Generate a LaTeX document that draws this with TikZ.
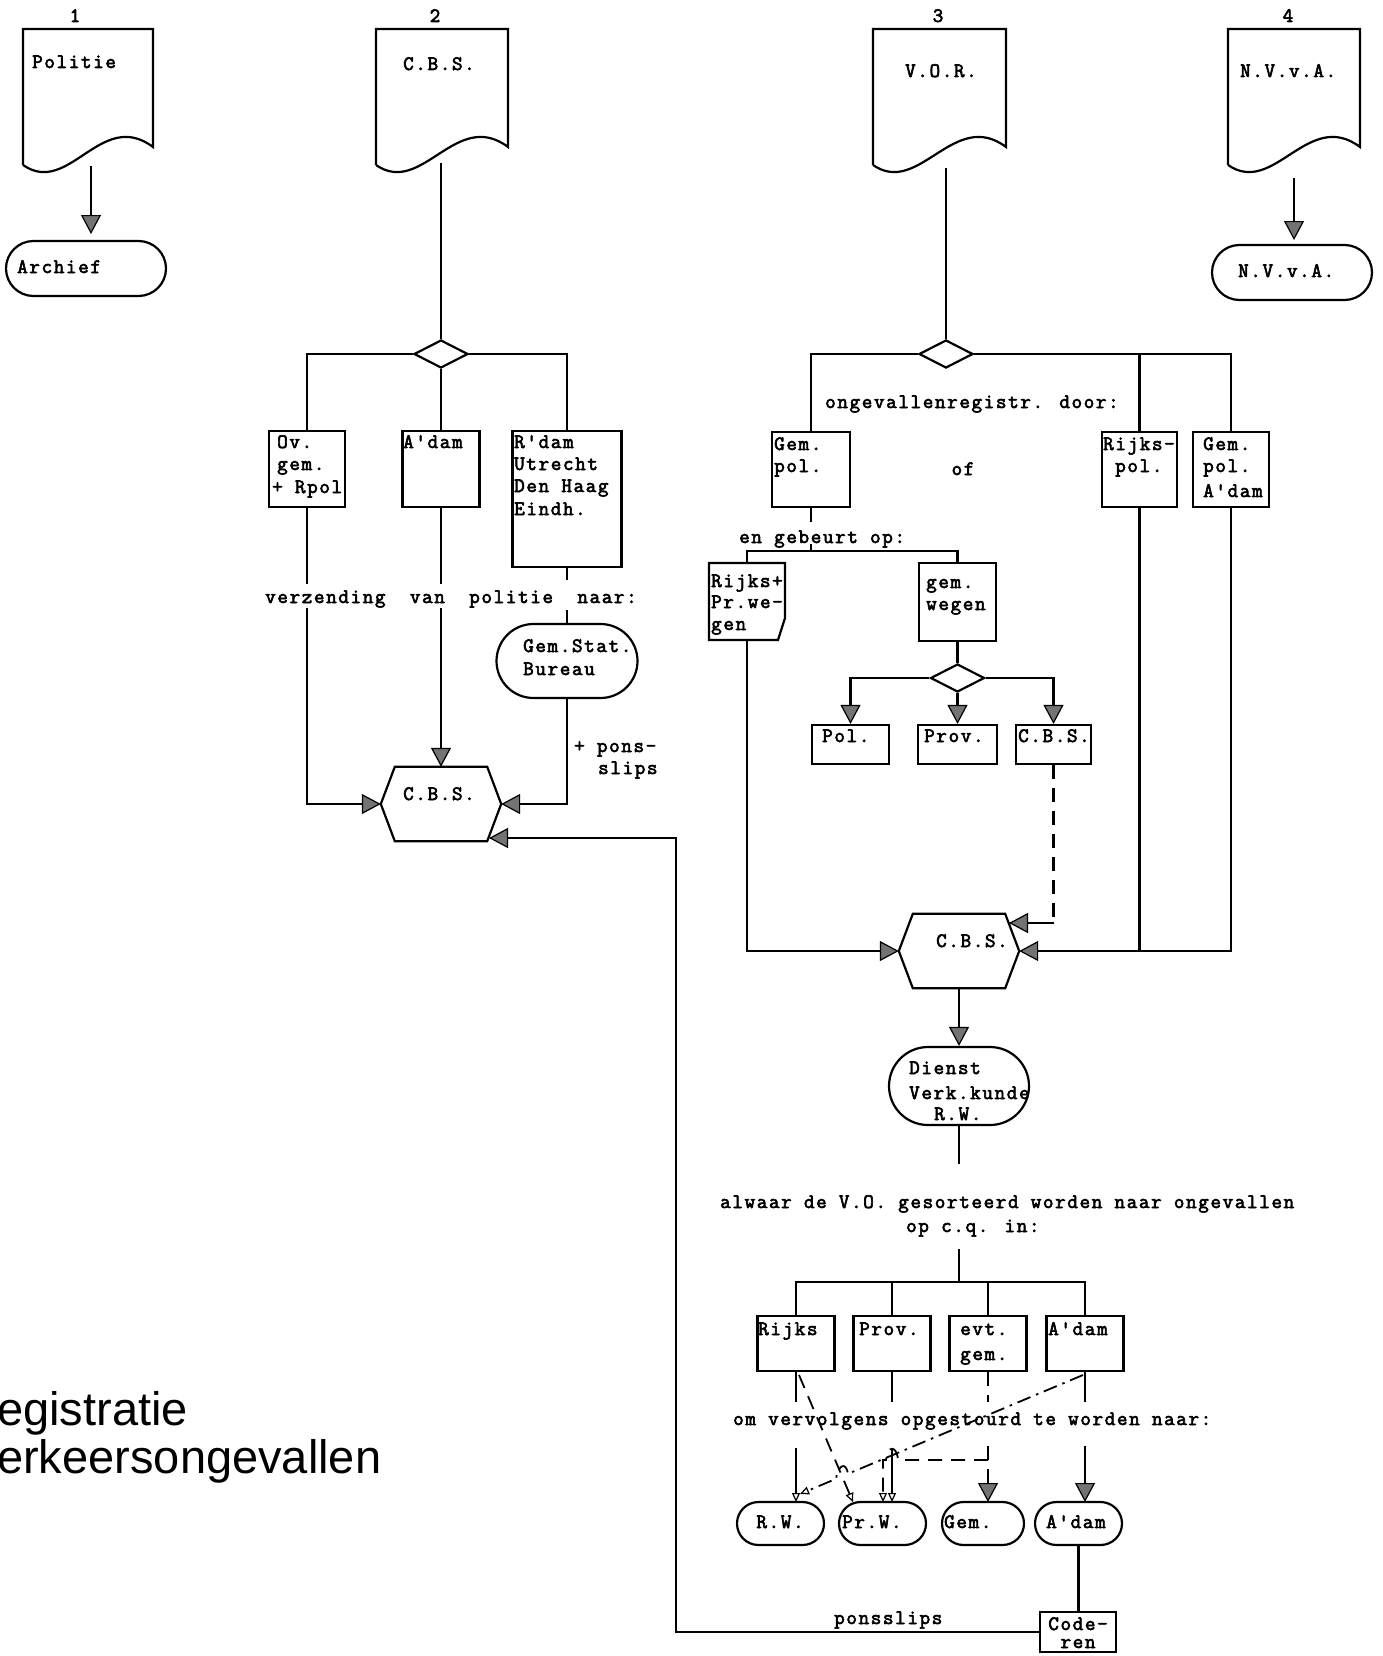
\documentclass[tikz,border=0pt]{standalone}
\usepackage{fontspec}
\usetikzlibrary{arrows.meta,shapes.geometric,shapes.misc,calc}
\newfontfamily\tw{Latin Modern Mono}[LetterSpace=8,FakeBold=3]
\newfontfamily\ttl{Liberation Sans}
\newcommand\mydoc[2]{\draw[ln] (#1,165) -- (#1,29) -- (#2,29) -- (#2,147) .. controls +(-52,-39) and +(46,32) .. (#1,165);}
\newcommand\myhex[1]{\draw[ln] ($(#1.north west)+(14,0)$) -- ($(#1.north east)+(-14,0)$) -- (#1.east) -- ($(#1.south east)+(-14,0)$) -- ($(#1.south west)+(14,0)$) -- (#1.west) -- cycle;}
\begin{document}
\begin{tikzpicture}[x=1pt,y=-1pt,
 ln/.style={line width=2.2pt},
 bx/.style={draw,line width=2.2pt,rectangle,inner sep=0pt},
 term/.style={draw,line width=2.2pt,rounded rectangle,inner sep=0pt},
 dia/.style={draw,line width=2.2pt,diamond,inner sep=0pt,minimum width=54pt,minimum height=28pt},
 hexa/.style={rectangle,inner sep=0pt,minimum width=120pt,minimum height=74pt},
 txt/.style={inner sep=0pt,anchor=base west,font=\tw\fontsize{20.5}{22}\selectfont},
 ctxt/.style={txt,anchor=base},
 arr/.style={-{Triangle[length=19pt,width=20pt,fill=black!55,line width=1.2pt]}},
 sarr/.style={-{Triangle[open,length=9pt,width=8pt,line width=1.2pt]}},
 dsh/.style={dash pattern=on 14pt off 9pt},
 dshdot/.style={dash pattern=on 14pt off 6pt on 2.5pt off 6pt},
]
\fill[white] (0,0) rectangle (1383,1656);
\useasboundingbox (0,0) rectangle (1383,1656);

% column numbers
\node[ctxt] (n1) at (75,22) {1};
\node[ctxt] (n2) at (435,22) {2};
\node[ctxt] (n3) at (938,22) {3};
\node[ctxt] (n4) at (1288,22) {4};

% documents
\mydoc{23}{153}
\mydoc{376}{508}
\mydoc{873}{1006}
\mydoc{1228}{1360}
\node[txt] (tpol) at (32,68) {Politie};
\node[txt] (tcbs0) at (403,70) {C.B.S.};
\node[txt] (tvor) at (905,77) {V.O.R.};
\node[txt] (tnv0) at (1240,77) {N.V.v.A.};

% column 1
\node[term,minimum width=160pt,minimum height=55pt] (arch) at (86,268.5) {};
\node[txt] (tarch) at (17,273) {Archief};
\coordinate (polb) at (91,166);
\coordinate (archin) at (91,234);
\draw[ln,arr] (polb) -- (archin);

% column 4
\node[term,minimum width=160pt,minimum height=55pt] (nvt) at (1292,272.5) {};
\node[txt] (tnv1) at (1238,277) {N.V.v.A.};
\coordinate (nvb) at (1294,178);
\coordinate (nvin) at (1294,240);
\draw[ln,arr] (nvb) -- (nvin);

% column 2
\coordinate (cbsb) at (441,163);
\node[dia] (d1) at (441,354) {};
\draw[ln] (cbsb) -- (d1.north);
\node[bx,minimum width=76pt,minimum height=76pt] (b1) at (307,469) {};
\node[bx,minimum width=77pt,minimum height=76pt] (b2) at (441,469) {};
\node[bx,minimum width=109pt,minimum height=136pt] (b3) at (567,499) {};
\draw[ln] (d1.west) -| (b1.north);
\draw[ln] (d1.east) -| (b3.north);
\draw[ln] (d1.south) -- (b2.north);
\node[txt] (tb1a) at (277,448) {Ov.};
\node[txt] (tb1b) at (277,470) {gem.};
\node[txt] (tb1c) at (272,493) {+ Rpol};
\node[txt] (tb2) at (403,448) {A'dam};
\node[txt] (tb3a) at (514,448) {R'dam};
\node[txt] (tb3b) at (514,470) {Utrecht};
\node[txt] (tb3c) at (514,492) {Den Haag};
\node[txt] (tb3d) at (514,515) {Eindh.};
\node[txt] (tverz) at (265,603) {verzending~~van~~politie~~naar:};
\node[term,minimum width=141pt,minimum height=74pt] (gs) at (567,661) {};
\node[txt] (tgs1) at (523,652) {Gem.Stat.};
\node[txt] (tgs2) at (523,675) {Bureau};
\node[hexa] (h1) at (441,804) {};
\myhex{h1}
\node[txt] (th1) at (403,800) {C.B.S.};
\coordinate (v1a) at (307,584);
\coordinate (v1b) at (307,608);
\coordinate (v2a) at (441,584);
\coordinate (v2b) at (441,608);
\coordinate (v3a) at (567,580);
\coordinate (v3b) at (567,610);
\draw[ln] (b1.south) -- (v1a);
\draw[ln,arr] (v1b) |- (h1.west);
\draw[ln] (b2.south) -- (v2a);
\draw[ln,arr] (v2b) -- (h1.north);
\draw[ln] (b3.south) -- (v3a);
\draw[ln] (v3b) -- (gs.north);
\draw[ln,arr] (gs.south) |- (h1.east);
\node[txt] (tpons1) at (574,752) {+ pons-};
\node[txt] (tpons2) at (598,774) {slips};

% column 3
\coordinate (vorb) at (946,168);
\node[dia] (d2) at (946,354) {};
\draw[ln] (vorb) -- (d2.north);
\node[bx,minimum width=78pt,minimum height=75pt] (gp) at (811,469.5) {};
\node[bx,minimum width=75pt,minimum height=75pt] (rp) at (1139.5,469.5) {};
\node[bx,minimum width=76pt,minimum height=75pt] (ga) at (1231,469.5) {};
\draw[ln] (d2.west) -| (gp.north);
\draw[ln] (d2.east) -| (ga.north);
\draw[ln] (rp.north) -- (rp.north |- d2.east);
\node[txt] (tong) at (825,408) {ongevallenregistr. door:};
\node[txt] (tgp1) at (774,450) {Gem.};
\node[txt] (tgp2) at (774,472) {pol.};
\node[ctxt] (tof) at (963,475) {of};
\node[txt] (trp1) at (1103,450) {Rijks-};
\node[txt] (trp2) at (1115,472) {pol.};
\node[txt] (tga1) at (1203,450) {Gem.};
\node[txt] (tga2) at (1203,472) {pol.};
\node[txt] (tga3) at (1203,497) {A'dam};
\coordinate (g1) at (811,522);
\coordinate (g2) at (811,544);
\coordinate (e1) at (747,551);
\coordinate (e2) at (957.5,551);
\coordinate (e0) at (811,551);
\draw[ln] (gp.south) -- (g1);
\draw[ln] (g2) -- (e0);
\node[txt] (tgeb) at (739,543) {en gebeurt op:};
\draw[ln] (709,563) -- (785,563) -- (785,618) -- (778,640) -- (709,640) -- cycle;
\coordinate (rpwN) at (747,563);
\coordinate (rpwS) at (747,640);
\node[txt] (trw1) at (711,587) {Rijks+};
\node[txt] (trw2) at (711,608) {Pr.we-};
\node[txt] (trw3) at (711,630) {gen};
\node[bx,minimum width=77pt,minimum height=78pt] (gw) at (957.5,602) {};
\node[txt] (tgw1) at (926,588) {gem.};
\node[txt] (tgw2) at (926,610) {wegen};
\draw[ln] (rpwN) -- (e1) -- (e2) -- (gw.north);
\node[dia] (d3) at (957.5,678) {};
\draw[ln] (gw.south) -- (d3.north);
\node[bx,minimum width=77pt,minimum height=39pt] (pol) at (850.5,744.5) {};
\node[bx,minimum width=79pt,minimum height=39pt] (prov) at (957.5,744.5) {};
\node[bx,minimum width=75pt,minimum height=39pt] (cbs3) at (1053.5,744.5) {};
\draw[ln,arr] (d3.west) -| (pol.north);
\draw[ln,arr] (d3.south) -- (prov.north);
\draw[ln,arr] (d3.east) -| (cbs3.north);
\node[txt] (tpo) at (822,742) {Pol.};
\node[txt] (tpr) at (924,742) {Prov.};
\node[txt] (tcb3) at (1018,742) {C.B.S.};
\node[hexa] (h2) at (959,951) {};
\myhex{h2}
\node[txt] (th2) at (936,947) {C.B.S.};
\coordinate (dq) at (1053.5,923);
\coordinate (h2in) at (1009,923);
\draw[ln,dsh] (cbs3.south) -- (dq);
\draw[ln,arr] (dq) -- (h2in);
\draw[ln,arr] (rpwS) |- (h2.west);
\draw[ln,arr] (ga.south) |- (h2.east);
\draw[ln] (rp.south) -- (rp.south |- h2.east);
\node[term,minimum width=140pt,minimum height=78pt] (dk) at (959,1086) {};
\draw[ln,arr] (h2.south) -- (dk.north);
\node[txt] (tdk1) at (909,1074) {Dienst};
\node[txt] (tdk2) at (909,1099) {Verk.kunde};
\node[txt] (tdk3) at (934,1120) {R.W.};
\coordinate (k1) at (959,1164);
\draw[ln] (dk.south) -- (k1);
\node[txt] (talw) at (720,1208) {alwaar de V.O. gesorteerd worden naar ongevallen};
\node[txt] (top) at (906,1232) {op c.q. in:};
\coordinate (k2) at (959,1249);
\coordinate (hb) at (959,1282);
\draw[ln] (k2) -- (hb);
\node[bx,minimum width=77pt,minimum height=55pt] (bR) at (796,1343.5) {};
\node[bx,minimum width=77pt,minimum height=55pt] (bP) at (892,1343.5) {};
\node[bx,minimum width=77pt,minimum height=55pt] (bE) at (988,1343.5) {};
\node[bx,minimum width=77pt,minimum height=55pt] (bA) at (1085,1343.5) {};
\draw[ln] (bR.north) -- (bR.north |- hb) -- (bA.north |- hb) -- (bA.north);
\draw[ln] (bP.north) -- (bP.north |- hb);
\draw[ln] (bE.north) -- (bE.north |- hb);
\node[txt] (tbR) at (758,1335) {Rijks};
\node[txt] (tbP) at (859,1335) {Prov.};
\node[txt] (tbE1) at (960,1335) {evt.};
\node[txt] (tbE2) at (960,1360) {gem.};
\node[txt] (tbA) at (1048,1335) {A'dam};
\node[txt] (tom) at (733,1425) {om vervolgens opgestourd te worden naar:};
\node[term,minimum width=87pt,minimum height=43pt] (tRW) at (780.5,1523.5) {};
\node[term,minimum width=87pt,minimum height=43pt] (tPW) at (882.5,1523.5) {};
\node[term,minimum width=82pt,minimum height=43pt] (tG) at (983,1523.5) {};
\node[term,minimum width=87pt,minimum height=43pt] (tA) at (1078.5,1523.5) {};
\node[ctxt] (ttRW) at (780,1528) {R.W.};
\node[txt] (ttPW) at (842,1528) {Pr.W.};
\node[txt] (ttG) at (944,1528) {Gem.};
\node[txt] (ttA) at (1046,1528) {A'dam};
% solid / dashed downward connections
\coordinate (r1) at (796,1402);
\coordinate (r2) at (796,1448);
\coordinate (r3) at (796,1502);
\coordinate (p1) at (892,1402);
\coordinate (p2) at (892,1450);
\coordinate (p3) at (892,1502);
\coordinate (q1) at (988,1402);
\coordinate (q2) at (988,1446);
\coordinate (q3) at (988,1502);
\coordinate (a1) at (1085,1402);
\coordinate (a2) at (1085,1446);
\coordinate (a3) at (1085,1502);
\draw[ln] (bR.south) -- (r1);
\draw[ln,sarr] (r2) -- (r3);
\draw[ln] (bP.south) -- (p1);
\draw[ln,sarr] (p2) -- (p3);
\draw[ln,dsh] (bE.south) -- (q1);
\draw[ln,dsh,arr] (q2) -- (q3);
\draw[ln] (bA.south) -- (a1);
\draw[ln,arr] (a2) -- (a3);
% extra dashed routes
\coordinate (x1) at (988,1460);
\coordinate (x2) at (898,1460);
\coordinate (x3) at (886,1460);
\coordinate (x4) at (883,1460);
\coordinate (x5) at (883,1502);
\draw[line width=1.8pt,dsh,sarr] (x1) -- (x2) .. controls (897,1445) and (887,1445) .. (x3) -- (x4) -- (x5);
\coordinate (y1) at (799,1375);
\coordinate (y2) at (853,1502);
\draw[line width=1.8pt,dsh,sarr] (y1) -- (y2);
\coordinate (z1) at (1083,1375);
\coordinate (z2) at (848,1473.8);
\coordinate (z3) at (836,1478.8);
\coordinate (z4) at (800,1494);
\draw[line width=1.8pt,dshdot,sarr] (z1) -- (z2) .. controls (846,1461) and (838,1465) .. (z3) -- (z4);
% coderen and return
\draw[ln] (tA.south) -- (1078.5,1612);
\node[bx,minimum width=76pt,minimum height=40pt] (cod) at (1078,1632) {};
\node[ctxt] (tcod1) at (1078,1630) {Code-};
\node[ctxt] (tcod2) at (1078,1648) {ren};
\node[txt] (tpsl) at (834,1624) {ponsslips};
\coordinate (ret1) at (676,1632);
\coordinate (ret2) at (676,838);
\coordinate (h1in) at (489,838);
\draw[ln,arr] (cod.west) -- (ret1) -- (ret2) -- (h1in);

% title fragment
\node[anchor=base west,inner sep=0pt,font=\ttl\fontsize{47}{50}\selectfont] (ti1) at (-3,1425) {egistratie};
\node[anchor=base west,inner sep=0pt,font=\ttl\fontsize{47}{50}\selectfont] (ti2) at (-3,1473) {erkeersongevallen};
\end{tikzpicture}
\end{document}
